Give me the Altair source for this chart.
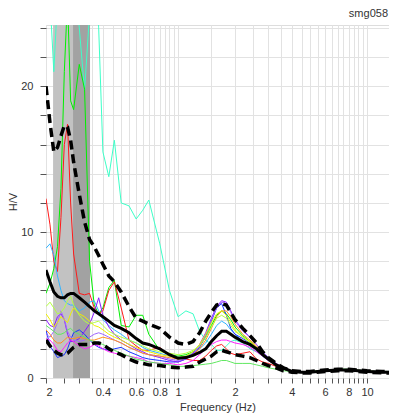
import altair as alt
import pandas as pd

FREQ = [0.2, 0.21, 0.22, 0.23, 0.24, 0.25, 0.26, 0.27, 0.28, 0.3,
        0.32, 0.34, 0.36, 0.38, 0.4, 0.43, 0.46, 0.5, 0.55, 0.6,
        0.65, 0.7, 0.8, 0.9, 1.0, 1.1, 1.2, 1.3, 1.4, 1.5,
        1.6, 1.7, 1.8, 1.9, 2.0, 2.2, 2.4, 2.6, 2.8, 3.0,
        3.3, 3.6, 4.0, 4.5, 5, 6, 7, 8, 10, 12,
        15]

MEAN = [7.4, 6.6, 5.9, 5.6, 5.5, 5.5, 5.7, 5.8, 5.8, 5.5,
        5.2, 4.9, 4.6, 4.4, 4.2, 3.9, 3.6, 3.4, 3.1, 2.7,
        2.4, 2.3, 2.0, 1.6, 1.35, 1.4, 1.55, 1.75, 2.0, 2.5,
        2.9, 3.2, 3.2, 3.0, 2.8, 2.5, 2.3, 2.0, 1.6, 1.3,
        0.9, 0.7, 0.45, 0.4, 0.4, 0.5, 0.55, 0.55, 0.45, 0.4,
        0.4]
UPPER = [20.0, 17.5, 15.5, 15.8, 16.6, 17.3, 17.2, 16.3, 14.8, 12.6,
         10.7, 9.5, 9.0, 8.4, 7.8, 7.0, 6.6, 5.9, 4.9, 4.1,
         3.9, 3.7, 3.4, 2.8, 2.4, 2.3, 2.5, 3.1, 3.9, 4.5,
         5.0, 5.1, 5.0, 4.5, 4.0, 3.4, 2.9, 2.4, 1.8, 1.4,
         1.0, 0.7, 0.5, 0.45, 0.45, 0.55, 0.6, 0.6, 0.5, 0.45,
         0.45]
LOWER = [2.6, 2.2, 1.9, 1.7, 1.6, 1.6, 1.7, 1.9, 2.1, 2.3,
         2.3, 2.3, 2.4, 2.4, 2.3, 2.0, 1.8, 1.6, 1.3, 1.1,
         1.0, 0.9, 0.85, 0.75, 0.7, 0.75, 0.8, 1.1, 1.3, 1.5,
         1.8, 1.9, 1.8, 1.7, 1.6, 1.5, 1.4, 1.2, 1.0, 0.85,
         0.7, 0.5, 0.4, 0.35, 0.35, 0.45, 0.5, 0.5, 0.4, 0.35,
         0.35]

CYAN = [30, 26, 21, 26, 30, 30, 30, 30, 28, 24,
        19.7, 25, 30, 24, 15.5, 13.8, 16.3, 12.0, 11.8, 10.9,
        11.5, 12.2, 9.2, 6.0, 4.2, 4.6, 4.4, 3.2, 2.6, 2.3,
        1.9, 1.9, 2.2, 2.5, 2.6, 2.4, 2.0, 1.8, 1.5, 1.2,
        0.9, 0.7, 0.45, 0.4, 0.4, 0.5, 0.55, 0.55, 0.45, 0.4,
        0.4]
LIME = [5.8, 6.5, 7.5, 9.0, 13.0, 21.0, 26.0, 19.0, 18.4, 21.5,
        19.8, 8.0, 5.0, 4.4, 4.8, 6.2, 6.7, 3.6, 3.5, 4.3,
        4.3, 3.0, 1.9, 1.6, 1.5, 1.6, 1.8, 2.2, 2.8, 3.6,
        4.3, 4.6, 4.4, 4.0, 3.5, 2.9, 2.5, 2.1, 1.7, 1.3,
        0.9, 0.7, 0.45, 0.4, 0.45, 0.55, 0.6, 0.6, 0.5, 0.45,
        0.45]
RED = [12.3, 10.5, 8.0, 7.3, 11.0, 16.0, 17.4, 12.0, 8.5, 5.8,
       5.7, 5.8, 4.8, 4.4, 4.6, 6.0, 6.6, 4.8, 2.6, 2.2,
       1.9, 1.9, 2.1, 1.5, 1.4, 1.3, 1.2, 1.2, 1.5, 1.9,
       2.2, 2.3, 2.0, 1.7, 1.6, 1.7, 1.8, 1.3, 1.1, 1.0,
       0.8, 0.6, 0.45, 0.4, 0.4, 0.5, 0.55, 0.55, 0.45, 0.4,
       0.4]
SKY = [8.9, 9.2, 8.4, 7.0, 6.0, 5.3, 5.1, 5.0, 5.0, 4.6,
       4.8, 5.2, 5.3, 4.6, 4.0, 3.6, 3.3, 3.0, 2.6, 2.4,
       2.1, 1.9, 1.7, 1.5, 1.4, 1.5, 1.7, 2.0, 2.4, 3.0,
       3.6, 3.9, 3.7, 3.3, 3.0, 2.5, 2.2, 1.9, 1.5, 1.2,
       0.9, 0.65, 0.45, 0.4, 0.4, 0.5, 0.5, 0.55, 0.45, 0.4,
       0.4]
BLUE = [3.3, 2.2, 1.8, 1.4, 1.5, 1.6, 2.0, 2.6, 3.1, 3.3,
        3.0, 2.6, 2.3, 2.1, 2.0, 1.9, 2.0, 2.1, 1.8, 1.6,
        1.4, 1.3, 1.2, 1.1, 1.1, 1.3, 1.6, 2.1, 2.9, 3.9,
        4.8, 5.1, 4.3, 3.4, 3.0, 2.7, 2.4, 2.0, 1.6, 1.3,
        0.95, 0.7, 0.45, 0.4, 0.4, 0.5, 0.55, 0.55, 0.5, 0.45,
        0.4]
PURPLE = [4.0, 3.6, 3.5, 4.2, 4.4, 4.0, 3.0, 2.5, 2.5, 2.7,
          3.2, 3.7, 4.5, 5.5, 4.3, 3.5, 3.0, 2.6, 2.3, 2.0,
          1.8, 1.6, 1.4, 1.2, 1.1, 1.3, 1.7, 2.3, 3.1, 4.1,
          4.9, 5.3, 5.2, 4.6, 4.0, 3.3, 2.8, 2.3, 1.8, 1.4,
          1.0, 0.7, 0.45, 0.4, 0.4, 0.5, 0.55, 0.6, 0.5, 0.45,
          0.45]
VIOLET = [3.0, 2.8, 3.2, 3.8, 4.6, 4.0, 3.2, 2.8, 2.6, 2.5,
          2.6, 2.8, 3.0, 3.1, 3.0, 2.8, 2.6, 2.4, 2.1, 1.9,
          1.7, 1.6, 1.5, 1.3, 1.2, 1.3, 1.6, 2.2, 3.0, 4.0,
          4.8, 5.2, 5.1, 4.5, 3.9, 3.2, 2.8, 2.3, 1.8, 1.4,
          1.0, 0.7, 0.45, 0.4, 0.45, 0.5, 0.55, 0.6, 0.5, 0.45,
          0.45]
MAGENTA = [2.7, 2.6, 2.3, 1.9, 1.8, 2.1, 2.4, 2.6, 2.5, 2.2,
           2.0, 2.1, 2.3, 2.2, 2.0, 1.8, 1.7, 1.6, 1.5, 1.4,
           1.3, 1.1, 1.0, 1.0, 0.9, 1.0, 1.2, 1.6, 2.0, 2.3,
           2.5, 2.6, 2.6, 2.5, 2.4, 2.3, 2.1, 1.8, 1.5, 1.2,
           0.9, 0.65, 0.45, 0.4, 0.4, 0.5, 0.5, 0.55, 0.45, 0.4,
           0.4]
ORANGE = [3.3, 3.0, 2.6, 2.4, 2.4, 2.6, 2.8, 2.7, 2.7, 2.8,
          2.7, 2.6, 2.6, 2.7, 2.8, 2.7, 2.6, 2.4, 2.1, 1.9,
          1.7, 1.6, 1.5, 1.4, 1.3, 1.4, 1.6, 2.0, 2.6, 3.4,
          4.2, 4.6, 4.6, 4.2, 3.7, 3.0, 2.6, 2.2, 1.7, 1.3,
          0.95, 0.7, 0.45, 0.4, 0.4, 0.5, 0.55, 0.55, 0.45, 0.4,
          0.4]
YELLOW = [4.4, 4.0, 3.5, 3.8, 4.2, 4.0, 3.8, 4.4, 4.8, 4.4,
          4.2, 3.9, 3.6, 3.5, 3.3, 3.0, 2.8, 2.6, 2.3, 2.1,
          1.9, 1.8, 1.6, 1.5, 1.4, 1.5, 1.8, 2.3, 3.0, 3.8,
          4.4, 4.6, 4.3, 3.8, 3.3, 2.8, 2.5, 2.1, 1.7, 1.3,
          0.95, 0.7, 0.45, 0.4, 0.4, 0.5, 0.55, 0.55, 0.45, 0.4,
          0.4]
YGREEN = [4.9, 5.2, 4.8, 4.4, 4.5, 4.8, 5.3, 5.6, 5.0, 4.3,
          3.9, 3.7, 3.8, 3.9, 3.6, 3.2, 3.0, 2.8, 2.6, 2.4,
          2.2, 2.0, 1.8, 1.7, 1.6, 1.7, 1.9, 2.2, 2.8, 3.5,
          4.1, 4.3, 4.1, 3.6, 3.2, 2.8, 2.4, 2.0, 1.6, 1.3,
          0.9, 0.7, 0.45, 0.4, 0.45, 0.5, 0.55, 0.6, 0.5, 0.45,
          0.45]
LGREEN = [3.6, 3.4, 3.2, 3.0, 3.0, 3.1, 3.3, 3.4, 3.2, 3.0,
          2.8, 2.6, 2.5, 2.4, 2.3, 2.1, 1.9, 1.7, 1.5, 1.3,
          1.2, 1.1, 1.0, 0.9, 0.8, 0.8, 0.85, 0.9, 0.95, 1.0,
          1.1, 1.2, 1.2, 1.1, 1.0, 1.0, 1.0, 0.9, 0.8, 0.7,
          0.6, 0.5, 0.45, 0.4, 0.4, 0.5, 0.55, 0.55, 0.45, 0.4,
          0.4]

WINDOWS = [
    ("w1", "#3dffc8", CYAN), ("w2", "#00f000", LIME), ("w3", "#ff1a1a", RED),
    ("w4", "#33b4ff", SKY), ("w5", "#1a33ff", BLUE), ("w6", "#8a1aff", PURPLE),
    ("w7", "#a066ff", VIOLET), ("w8", "#ff22ff", MAGENTA), ("w9", "#ff9020", ORANGE),
    ("w10", "#eeee00", YELLOW), ("w11", "#b4ff40", YGREEN), ("w12", "#60e860", LGREEN),
]

BAND_START = [0.218, 0.278]
BAND_END = [0.278, 0.342]
BAND_FILL = ["#c2c2c2", "#a2a2a2"]

XTICKS = [0.2, 0.25, 0.3, 0.35, 0.4, 0.45, 0.5, 0.55, 0.6, 0.65, 0.7, 0.75, 0.8,
          0.85, 0.9, 0.95, 1, 1.5, 2, 2.5, 3, 3.5, 4, 4.5, 5, 5.5, 6, 6.5, 7,
          7.5, 8, 8.5, 9, 9.5, 10]
XLABELS = {0.2: "2", 0.4: "0.4", 0.6: "0.6", 0.8: "0.8", 1: "1", 2: "2",
           4: "4", 6: "6", 8: "8", 10: "10"}
YTICKS = [0, 2, 4, 6, 8, 10, 12, 14, 16, 18, 20, 22, 24]
YLABELS = {0: "0", 10: "10", 20: "20"}

FONT = "Liberation Sans"

rows = []
for name, col, vals in WINDOWS:
    for f, v in zip(FREQ, vals):
        rows.append({"f": f, "hv": v, "curve": name, "col": col})
win_df = pd.DataFrame(rows)
mean_df = pd.DataFrame({"f": FREQ, "hv": MEAN})
dash_rows = []
for name, vals in (("upper", UPPER), ("lower", LOWER)):
    for f, v in zip(FREQ, vals):
        dash_rows.append({"f": f, "hv": v, "curve": name})
dash_df = pd.DataFrame(dash_rows)
band_df = pd.DataFrame({"f": BAND_START, "f2": BAND_END, "fill": BAND_FILL})

x_label_expr = " : ".join(
    f"abs(datum.value - {v}) < 1e-6 ? '{s}'" for v, s in XLABELS.items()) + " : ''"
y_label_expr = " : ".join(
    f"datum.value == {v} ? '{s}'" for v, s in YLABELS.items()) + " : ''"

x_scale = alt.Scale(type="log", domain=[0.2, 13.06], nice=False)
y_scale = alt.Scale(domain=[0, 24.2], nice=False, zero=False)

x_axis = alt.Axis(values=XTICKS, labelExpr=x_label_expr, title="Frequency (Hz)",
                  grid=True, gridColor="#e2e2e2", tickSize=5, labelPadding=3,
                  labelOverlap=False, labelFlush=True, titlePadding=4,
                  domain=False, tickColor="#555", labelColor="#333",
                  labelFont=FONT, labelFontSize=11, titleFont=FONT,
                  titleFontSize=11, titleFontWeight="normal", titleColor="#333")
y_axis = alt.Axis(values=YTICKS, labelExpr=y_label_expr,
                  title="H/V", grid=True, gridColor="#e2e2e2",
                  tickSize=6, labelPadding=7, labelOverlap=False, labelFlush=False,
                  titlePadding=2, domain=False, tickColor="#555",
                  labelColor="#333", labelFont=FONT, labelFontSize=11,
                  titleFont=FONT, titleFontSize=11, titleFontWeight="normal",
                  titleColor="#333")

X = alt.X("f:Q", scale=x_scale, axis=x_axis)
Y = alt.Y("hv:Q", scale=y_scale, axis=y_axis)

bands = alt.Chart(band_df).mark_rect().encode(
    x=X,
    x2="f2:Q",
    color=alt.Color("fill:N", scale=None),
)

windows = alt.Chart(win_df).mark_line(strokeWidth=1, clip=True).encode(
    x=X, y=Y,
    color=alt.Color("col:N", scale=None),
    detail="curve:N",
)

dashed = alt.Chart(dash_df).mark_line(strokeWidth=3.5, color="black",
                                      strokeDash=[9, 5], clip=True).encode(
    x=X, y=Y, detail="curve:N",
)

mean = alt.Chart(mean_df).mark_line(strokeWidth=3, color="black", clip=True).encode(
    x=X, y=Y,
)

chart = alt.layer(bands, windows, dashed, mean).properties(
    width=343, height=353,
    autosize=alt.AutoSizeParams(type="none"),
    padding={"left": 38, "top": 17, "right": 0, "bottom": 37},
    title=alt.TitleParams("smg058", anchor="end", frame="group", font=FONT,
                          fontSize=11, fontWeight="normal", color="#333",
                          dx=-1, offset=3),
).configure_view(stroke=None).configure(background="white")

chart.save("out.html", embed_options={"renderer": "svg", "actions": False})
